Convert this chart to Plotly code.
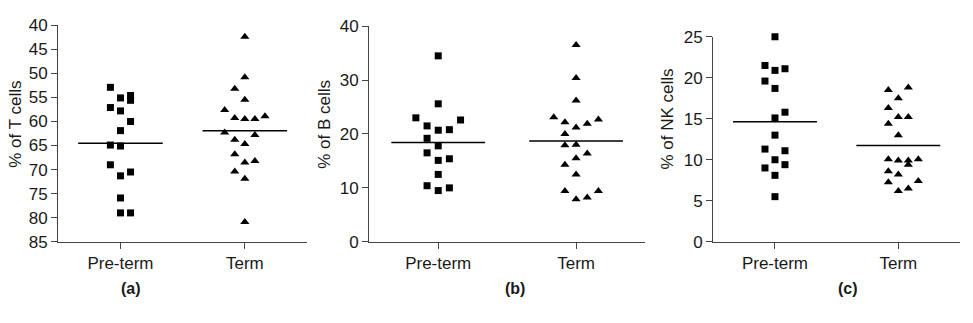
import numpy as np
import plotly.graph_objects as go

categories = ["Pre-term", "Term"]

# Panel (a): % of T cells
t_pre_vals = [52.9, 55.1, 54.6, 55.6, 57.1, 57.8, 60.0, 61.9, 64.9, 65.1, 69.0, 71.3, 70.5, 75.9, 79.0, 79.0]
t_pre_slot = [-1, 0, 1, 1, -1, 0, 1, 0, -1, 0, -1, 0, 1, 0, 0, 1]
t_term_vals = [42.4, 50.8, 53.2, 55.5, 57.6, 59.3, 59.5, 59.5, 58.9, 62.3, 63.8, 64.7, 62.8, 66.8, 68.5, 68.2, 70.4, 71.9, 80.9]
t_term_slot = [0, 0, -1, 0, -2, -1, 0, 1, 2, -2, -1, 0, 1, -1, 0, 1, -1, 0, 0]
t_means = [64.5, 61.9]

# Panel (b): % of B cells
b_pre_vals = [34.5, 25.6, 23.0, 22.6, 21.5, 20.7, 20.8, 19.2, 17.8, 16.5, 15.1, 15.4, 12.5, 10.4, 9.5, 10.0]
b_pre_slot = [0, 0, -2, 2, -1, 0, 1, -1, 0, -1, 0, 1, 0, -1, 0, 1]
b_term_vals = [36.5, 30.4, 26.2, 23.1, 22.2, 21.2, 21.9, 22.7, 20.0, 17.9, 18.0, 15.5, 16.4, 14.3, 12.5, 9.4, 7.9, 8.2, 9.4]
b_term_slot = [0, 0, 0, -2, -1, 0, 1, 2, -1, -1, 0, 0, 1, -1, 0, -1, 0, 1, 2]
b_means = [18.4, 18.7]

# Panel (c): % of NK cells
nk_pre_vals = [25.0, 21.5, 20.9, 21.1, 19.6, 18.7, 15.1, 15.8, 13.0, 11.3, 11.1, 10.0, 9.0, 9.4, 8.1, 5.5]
nk_pre_slot = [0, -1, 0, 1, -1, 0, 0, 1, 0, -1, 1, 0, -1, 1, 0, 0]
nk_term_vals = [18.5, 18.8, 17.5, 16.3, 15.2, 15.2, 14.4, 13.0, 10.05, 9.9, 9.9, 9.4, 10.05, 8.6, 8.2, 7.25, 6.2, 6.5, 7.4]
nk_term_slot = [-1, 1, 0, -1, 0, 1, -1, 0, -1, 0, 1, 1, 2, -1, 0, -1, 0, 1, 2]
nk_means = [14.65, 11.75]

y_titles = ["% of T cells", "% of B cells", "% of NK cells"]
panel_labels = ["(a)", "(b)", "(c)"]
y_ranges = [[85, 40], [0, 40], [0, 25]]
y_dticks = [5, 10, 5]

W, H = 973, 323
FONT = "Liberation Sans, Arial, sans-serif"
SLOT = 0.081
HALF = 0.34


def fx(p):
    return p / W


def fy(p):
    return 1 - p / H


panels = [
    (t_pre_vals, t_pre_slot, t_term_vals, t_term_slot, t_means),
    (b_pre_vals, b_pre_slot, b_term_vals, b_term_slot, b_means),
    (nk_pre_vals, nk_pre_slot, nk_term_vals, nk_term_slot, nk_means),
]

# pixel boxes for each panel: (x0, x1, ytop, ybottom)
boxes = [(58.3, 307.0, 17.3, 247.3), (369.3, 645.0, 18.3, 247.3), (713.3, 960.0, 29.5, 247.3)]
title_pos = [(16, 123), (325, 123), (668, 117.5)]
label_pos = [(131, 297), (515, 297), (847.5, 297)]

fig = go.Figure()
layout = dict(
    width=W, height=H, margin=dict(l=0, r=0, t=0, b=0),
    plot_bgcolor="white", paper_bgcolor="white", showlegend=False,
    font=dict(family=FONT, size=17, color="#1a1a1a"),
)
annotations = []
for i, (pv, ps, tv, ts, means) in enumerate(panels):
    xa = "x" if i == 0 else f"x{i+1}"
    ya = "y" if i == 0 else f"y{i+1}"
    px = 0 + np.array(ps) * SLOT
    tx = 1 + np.array(ts) * SLOT
    fig.add_trace(go.Scatter(x=px, y=pv, mode="markers", xaxis=xa, yaxis=ya,
                             marker=dict(symbol="square", size=7, color="black"),
                             cliponaxis=False))
    fig.add_trace(go.Scatter(x=tx, y=tv, mode="markers", xaxis=xa, yaxis=ya,
                             marker=dict(symbol="triangle-up", size=8, color="black"),
                             cliponaxis=False))
    for c, m in enumerate(means):
        fig.add_trace(go.Scatter(x=[c - HALF, c + HALF], y=[m, m], mode="lines",
                                 xaxis=xa, yaxis=ya, line=dict(color="black", width=1.5)))
    x0, x1, yt, yb = boxes[i]
    xkey = "xaxis" if i == 0 else f"xaxis{i+1}"
    ykey = "yaxis" if i == 0 else f"yaxis{i+1}"
    layout[xkey] = dict(
        domain=[fx(x0), fx(x1)], anchor=ya, range=[-0.5, 1.5],
        tickvals=[0, 1], ticktext=categories, ticks="outside", ticklen=6,
        tickcolor="#444", tickwidth=1.3, showline=True, linecolor="#444", linewidth=1.3,
        showgrid=False, zeroline=False, tickfont=dict(size=17, family=FONT, color="#1a1a1a"),
    )
    layout[ykey] = dict(
        domain=[fy(yb), fy(yt)], anchor=xa, range=y_ranges[i], dtick=y_dticks[i],
        tick0=0, ticks="outside", ticklen=6, tickcolor="#444", tickwidth=1.3,
        showline=True, linecolor="#444", linewidth=1.3, showgrid=False, zeroline=False,
        tickfont=dict(size=17, family=FONT, color="#1a1a1a"),
    )
    tx_, ty_ = title_pos[i]
    annotations.append(dict(text=y_titles[i], x=fx(tx_), y=fy(ty_), xref="paper", yref="paper",
                            textangle=-90, showarrow=False, xanchor="center", yanchor="middle",
                            font=dict(size=17, family=FONT, color="#1a1a1a")))
    lx, ly = label_pos[i]
    annotations.append(dict(text="<b>" + panel_labels[i] + "</b>", x=fx(lx), y=fy(ly),
                            xref="paper", yref="paper", showarrow=False,
                            xanchor="center", yanchor="middle",
                            font=dict(size=16, family=FONT, color="#1a1a1a")))

layout["annotations"] = annotations
fig.update_layout(**layout)
fig.write_html("out.html", config={"displayModeBar": False},
               post_script="document.body.style.margin='0';document.body.style.overflow='hidden';")
